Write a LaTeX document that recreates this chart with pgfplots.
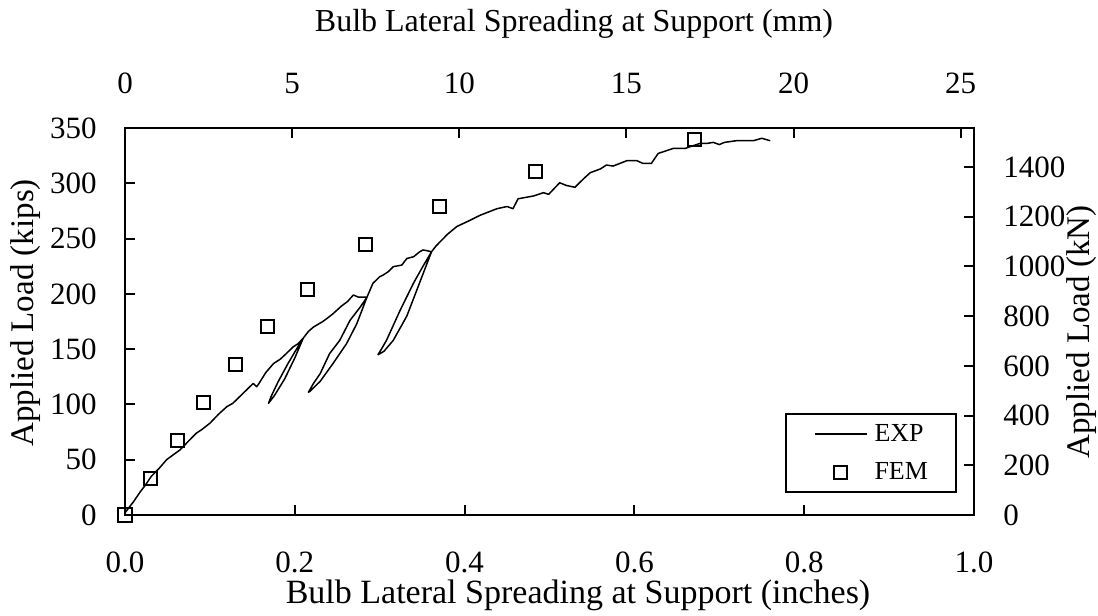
\documentclass[border=0pt]{standalone}
\usepackage{fontspec}
\setmainfont{Liberation Serif}
\usepackage{pgfplots}
\pgfplotsset{compat=1.18}
\pgfplotsset{
  expleg/.style={legend image code/.code={\draw[##1] (0bp,0bp) -- (26bp,0bp);}},
  femleg/.style={legend image code/.code={\draw[##1] plot coordinates {(13bp,0bp)};}},
}
\begin{document}
\begin{tikzpicture}
\useasboundingbox (0,0) rectangle (549bp,308bp);
\pgfplotsset{
  common/.style={
    scale only axis, width=424.5bp, height=193.5bp,
    at={(62.5bp,50.5bp)}, anchor=south west,
    axis line style={line width=1bp},
    major tick style={line width=1bp, black},
    major tick length=5bp,
    tick align=inside,
    scaled ticks=false,
    /pgf/number format/assume math mode=true,
    /pgf/number format/1000 sep={},
    tick label style={font=\fontsize{15.5bp}{18bp}\selectfont, inner sep=0pt},
  }
}
% secondary axes (mm, kN)
\begin{axis}[common, xmin=0, xmax=25.4, ymin=0, ymax=1556.9,
  xtick={0,5,10,15,20,25}, ytick={0,200,400,600,800,1000,1200,1400},
  xtick pos=right, ytick pos=right, xticklabel pos=right, yticklabel pos=right,
  xticklabel style={anchor=south, yshift=17bp},
  yticklabel style={anchor=west, xshift=14.5bp}]
\end{axis}
% primary axes (inches, kips)
\begin{axis}[common, xmin=0, xmax=1, ymin=0, ymax=350,
  xtick={0,0.2,0.4,0.6,0.8,1}, ytick={0,50,100,150,200,250,300,350},
  xtick pos=left, ytick pos=left,
  xticklabel style={anchor=north, yshift=-18bp, /pgf/number format/fixed, /pgf/number format/fixed zerofill, /pgf/number format/precision=1},
  yticklabel style={anchor=east, xshift=-14bp},
  clip=false,
  legend cell align=left,
  legend style={at={(0.7774,0.2636)}, anchor=north west, draw=black, line width=1bp,
    font=\fontsize{13bp}{15bp}\selectfont, inner xsep=14bp, inner ysep=5bp,
    row sep=9bp, column sep=3.5bp, nodes={inner sep=0pt}}]
\addplot[black, line width=0.75bp, line join=round, expleg] coordinates {
(0,2) (0.010,12) (0.018,21) (0.024,27) (0.031,35) (0.040,42) (0.049,50) (0.056,54) (0.065,59) (0.075,67) (0.084,74) (0.090,77) (0.100,83) (0.110,91) (0.120,98) (0.127,101) (0.135,107) (0.143,113) (0.151,119) (0.155,116) (0.157,118) (0.166,129) (0.175,137) (0.183,141) (0.190,146) (0.198,152) (0.204,155) (0.210,160)
(0.200,142) (0.188,123) (0.176,108) (0.169,101) (0.172,107) (0.180,120) (0.192,137) (0.202,150) (0.210,160)
(0.216,166) (0.222,170) (0.233,175) (0.240,179) (0.245,182) (0.255,189) (0.262,193) (0.269,199) (0.275,197) (0.281,197) (0.285,197)
(0.273,173) (0.261,155) (0.245,137) (0.230,121) (0.218,112) (0.216,111) (0.222,119) (0.230,128) (0.241,146) (0.253,158) (0.265,176) (0.277,188) (0.285,197)
(0.292,209.5) (0.300,215.5) (0.304,217) (0.310,220) (0.316,224.6) (0.326,226) (0.332,232) (0.340,233.6) (0.347,238) (0.351,239.7) (0.356,239) (0.361,238)
(0.347,210) (0.332,180) (0.316,158) (0.305,148) (0.298,145) (0.302,150) (0.308,158) (0.324,185) (0.340,210) (0.351,225) (0.361,238)
(0.366,243) (0.371,247) (0.380,254) (0.391,261) (0.405,266) (0.418,271) (0.428,274) (0.438,277) (0.450,279) (0.457,277) (0.463,286) (0.481,288.5) (0.493,291.5) (0.499,290) (0.512,300.5) (0.520,298) (0.530,296.4) (0.540,304) (0.548,309.6) (0.560,313) (0.567,316.5) (0.575,315.6) (0.591,320.4) (0.603,320.4) (0.610,318) (0.620,318) (0.628,327) (0.646,331.6) (0.660,331.6) (0.677,336) (0.685,336) (0.693,337) (0.700,335) (0.706,337) (0.720,338.5) (0.740,338.5) (0.750,340.7) (0.760,338.5)
};
\addlegendentry{EXP}
\addplot[only marks, mark=square, mark size=3.25bp, black, mark options={line width=1bp}, femleg] coordinates {
(0,0) (0.030,33.2) (0.062,67.8) (0.093,101.9) (0.130,136.3) (0.168,170.3) (0.215,203.5) (0.283,244.2) (0.370,278.8) (0.484,311.1) (0.671,339.8)
};
\addlegendentry{FEM}
\end{axis}
\node[anchor=base, font=\fontsize{16bp}{20bp}\selectfont] at (287bp,292bp) {Bulb Lateral Spreading at Support (mm)};
\node[anchor=base, font=\fontsize{17bp}{20bp}\selectfont] at (289bp,6.5bp) {Bulb Lateral Spreading at Support (inches)};
\node[anchor=base, rotate=90, font=\fontsize{16.5bp}{20bp}\selectfont] at (16.75bp,151.5bp) {Applied Load (kips)};
\node[anchor=base, rotate=90, font=\fontsize{16.5bp}{20bp}\selectfont] at (544.75bp,142bp) {Applied Load (kN)};
\end{tikzpicture}
\end{document}
